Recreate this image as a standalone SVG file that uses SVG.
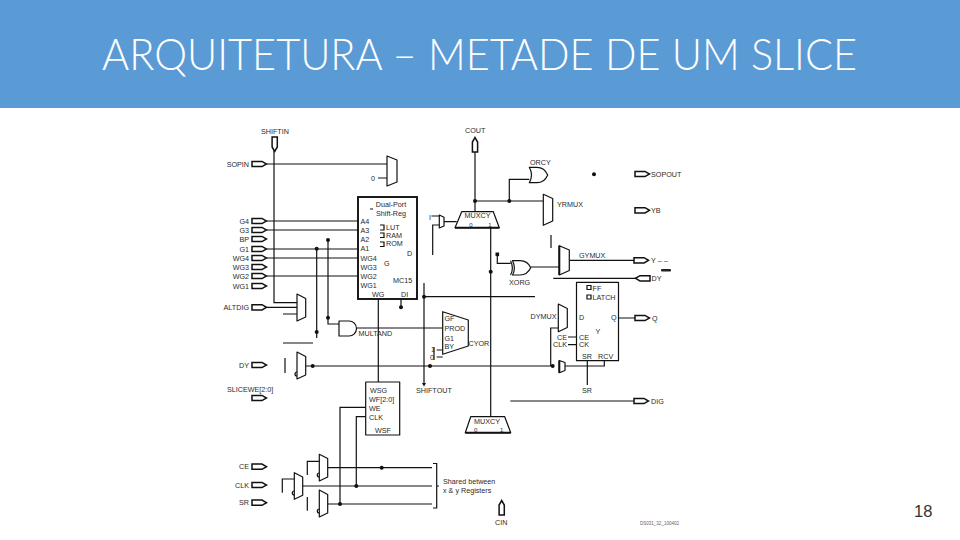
<svg xmlns="http://www.w3.org/2000/svg" xmlns:xlink="http://www.w3.org/1999/xlink" width="960" height="540" viewBox="0 0 960 540">
<style>
text{font-family:"Liberation Sans",Arial,sans-serif;font-size:7.2px;fill:#2a2a2a}
.e{text-anchor:end}.m{text-anchor:middle}
.w{fill:none;stroke:#111;stroke-width:1.2}
.s{fill:#fff;stroke:#111;stroke-width:1.2;stroke-linejoin:round}
.p{fill:#fff;stroke:#111;stroke-width:1.5;stroke-linejoin:miter}
.t{fill:#fff;stroke:#111;stroke-width:1.9}
.d{fill:#111}
.n{font-size:6px}
</style>
<defs>
<path id="pad" class="p" d="M0,-2.600H10L14.500,0L10,2.600H0Z"/>
</defs>
<rect width="960" height="540" fill="#fff"/>
<g id="header">
<rect width="960" height="108" fill="#5B9BD5"/>
<text x="102" y="70" textLength="755" lengthAdjust="spacingAndGlyphs" style="font-family:Lato,'Liberation Sans',sans-serif;font-weight:300;font-size:44px;fill:#fff">ARQUITETURA – METADE DE UM SLICE</text>
</g>
<g id="connectors">
<path class="w" d="M274,150V302.700H297M267,164H387M378,178H387M267,221H358M267,230H358M267,249H358M267,258H358M267,276H358M267,307.300H297M283,314H297"/>
<path class="w" d="M316.700,249V338M328,240V324H339M357,328H442.700M283,343H313M285,358V373M305.700,366H552M378.300,299V382M401,299V307M424,283V385M424,296.700H535"/>
<path class="w" d="M365.700,407.300H340V504M365.700,416.700H356.300V486M327.700,467.700H432M302.700,486H432M327.700,504H432M307.300,475V461.300H319.300M282.300,492.700V479H294.300M307.300,510.700V497"/>
<path class="w" d="M436.700,350H442.700M436.700,357H442.700M434,347V360M431.500,216H439.300M432.700,255V225H439.300M444,221.700H456.700M475,211.700V152M475,201H543.300M509.300,201V179.300H529.300M551,235V248"/>
<path class="w" d="M569.300,260.300H634M530.700,267H559.300M497.300,254.300V263.300H510.700M490.700,227.700V416.700M553.300,278.300H637M615,318H635M550.700,366V328H558.300M565,366H604.300V360.700M587.300,360.700V385M510.300,401H634M568,337H576.700M568,344.700H576.700"/>
<path class="w" d="M433,463.500H436.700V508H433M436.700,486H439"/>
</g>
<g id="pads">
<use href="#pad" x="252" y="164"/><use href="#pad" x="252" y="221"/><use href="#pad" x="252" y="230"/><use href="#pad" x="252" y="239"/><use href="#pad" x="252" y="249"/><use href="#pad" x="252" y="258"/><use href="#pad" x="252" y="267"/><use href="#pad" x="252" y="276"/><use href="#pad" x="252" y="286"/><use href="#pad" x="252" y="307.300"/><use href="#pad" x="252" y="365"/><use href="#pad" x="252" y="398"/><use href="#pad" x="252" y="466.700"/><use href="#pad" x="252" y="485"/><use href="#pad" x="252" y="502.700"/>
<use href="#pad" x="635" y="174"/><use href="#pad" x="635" y="210.300"/><use href="#pad" x="634" y="260.300"/><use href="#pad" transform="translate(650,278.300) scale(-1,1)"/><use href="#pad" x="635" y="318"/><use href="#pad" x="634" y="401"/>
<use href="#pad" transform="translate(274.700,137) rotate(90)"/><use href="#pad" transform="translate(475,152) rotate(-90)"/><use href="#pad" transform="translate(501.700,515) rotate(-90)"/>
<rect x="661" y="269" width="10" height="2.500" rx="1" fill="#222"/>
</g>
<g id="lut"><rect class="t" x="358" y="197" width="59" height="102"/>
<path class="w" d="M370,209H373M380,225H384V230H380M380,233H384V237.500H380M380,242H384V246.500H380"/>
<text class="m" x="391" y="207">Dual-Port</text><text class="m" x="391" y="215.500">Shift-Reg</text>
<text x="360.500" y="223.500">A4</text><text x="360.500" y="232.500">A3</text><text x="360.500" y="241.500">A2</text><text x="360.500" y="251">A1</text><text x="360.500" y="260.500">WG4</text><text x="360.500" y="269.500">WG3</text><text x="360.500" y="278.500">WG2</text><text x="360.500" y="287.500">WG1</text>
<text x="386" y="229.500">LUT</text><text x="386" y="237.500">RAM</text><text x="386" y="245.500">ROM</text><text x="407" y="255.500">D</text><text x="384" y="265.500">G</text><text x="393" y="283">MC15</text><text x="372" y="297">WG</text><text x="401" y="297">DI</text>
</g>
<g id="wsg-box"><rect class="s" x="365.700" y="382" width="34" height="53"/>
<text x="370" y="392.500">WSG</text><text x="369" y="401.500">WF[2:0]</text><text x="369" y="410.500">WE</text><text x="369" y="419.500">CLK</text><text x="375" y="433">WSF</text></g>
<g id="ff-box"><rect class="s" x="576.500" y="282.300" width="42" height="78.400"/>
<path class="w" d="M587,285.500h4v4h-4zM587,295h4v4h-4z"/>
<text x="592.500" y="290.500">FF</text><text x="592.500" y="300">LATCH</text>
<text x="579" y="320">D</text><text x="611" y="320">Q</text><text x="595.500" y="333.500">Y</text><text x="579" y="339.500">CE</text><text x="579" y="347">CK</text><text x="582" y="358.500">SR</text><text x="598" y="358.500">RCV</text></g>
<g id="mux-top"><path class="s" d="M387,156L397,160V182L387,186Z"/></g>
<g id="mux-alt"><path class="s" d="M297,294L305.700,298.500V317L297,321Z"/></g>
<g id="mux-dy"><path class="s" d="M297,352L305.700,356.500V375L297,379Z"/><path class="w" d="M297,372a2,2 0 1 0 0,4"/></g>
<g id="mux-ce"><path class="s" d="M319.300,454.300L327.700,458.500V477L319.300,481Z"/><path class="w" d="M319.300,473a2,2 0 1 0 0,4"/></g>
<g id="mux-clk"><path class="s" d="M294.300,472.700L302.700,477V495.300L294.300,499.300Z"/><path class="w" d="M294.300,491a2,2 0 1 0 0,4"/></g>
<g id="mux-sr"><path class="s" d="M319.300,490L327.700,494.500V513L319.300,517Z"/><path class="w" d="M319.300,509a2,2 0 1 0 0,4"/></g>
<g id="mux-i"><path class="s" d="M439.300,215L444,217.300V226L439.300,228Z"/></g>
<g id="muxcy-top"><path class="s" d="M461.700,211.700H493.300L499.300,227.700H455Z"/><path d="M455,227.700H499.300" stroke="#111" stroke-width="2"/><text class="m" x="477.500" y="218.200">MUXCY</text><text class="m n" x="471" y="226.500">0</text><text class="m n" x="490" y="226.500">1</text></g>
<g id="muxcy-bottom"><path class="s" d="M470.700,416.700H504.700L510.700,432.700H465.300Z"/><path d="M465.300,432.700H510.700" stroke="#111" stroke-width="2"/><text x="474" y="423.500">MUXCY</text><text class="n" x="474" y="431.500">0</text><text class="n" x="500" y="431.500">1</text></g>
<g id="yrmux"><path class="s" d="M543.300,194.300L552.700,198.500V221L543.300,225.300Z"/></g>
<g id="gymux"><path class="s" d="M559.300,245.700L569.300,250V270.500L559.300,275Z"/><path d="M559.300,245.700V275" stroke="#111" stroke-width="2"/></g>
<g id="dymux"><path class="s" d="M558.300,304L567.300,308.500V327.500L558.300,331.700Z"/></g>
<g id="mux-sr-ff"><path class="s" d="M559.300,360.500L565,362.500V370.500L559.300,372.700Z"/><path d="M559.300,360.500V372.700" stroke="#111" stroke-width="2"/></g>
<g id="cyor"><path class="s" d="M442.700,311.700L468.300,320V346L442.700,354.300Z"/><text x="444.500" y="321">GF</text><text x="444.500" y="331">PROD</text><text x="444.500" y="340.500">G1</text><text x="444.500" y="348.500">BY</text></g>
<g id="multand"><path class="s" d="M339,321H349A7.500,7.500 0 0 1 349,336H339Z"/></g>
<g id="orcy"><path class="s" d="M529.300,167.300H537C542,167.300 546,171 547.700,175C546,179 542,182.700 537,182.700H529.300C532,178 532,172 529.300,167.300Z"/></g>
<g id="xorg"><path class="s" d="M512.500,260.700H520C525,260.700 529,264 530.700,267.800C529,271.500 525,275 520,275H512.500C515,271 515,265 512.500,260.700Z"/><path class="w" d="M510.500,260.700C513,265 513,271 510.500,275"/></g>
<g id="junctions">
<circle class="d" cx="316.700" cy="248.700" r="2"/><circle class="d" cx="328" cy="240" r="2"/><circle class="d" cx="328" cy="317.700" r="2"/><circle class="d" cx="316.700" cy="332" r="2"/><circle class="d" cx="312.700" cy="366" r="2"/><circle class="d" cx="430" cy="366" r="2"/><circle class="d" cx="424" cy="296.700" r="2"/><circle class="d" cx="401" cy="307.300" r="2"/><circle class="d" cx="475" cy="201" r="2"/><circle class="d" cx="509.300" cy="201" r="2"/><circle class="d" cx="594" cy="174.300" r="2"/><circle class="d" cx="490.700" cy="271.700" r="2"/><circle class="d" cx="552.700" cy="366" r="2"/><circle class="d" cx="381.700" cy="467.700" r="2"/><circle class="d" cx="356.300" cy="486" r="2"/><circle class="d" cx="340" cy="504" r="2"/>
<rect class="d" x="495.500" y="252.500" width="3.600" height="3.600"/><path class="d" d="M422,383H426L424,386.500Z"/>
</g>
<g id="labels">
<text x="261" y="134">SHIFTIN</text><text x="465" y="133">COUT</text><text x="530" y="164.500">ORCY</text>
<text class="e" x="249" y="166.500">SOPIN</text><text class="e" x="249" y="223.500">G4</text><text class="e" x="249" y="232.500">G3</text><text class="e" x="249" y="241.500">BP</text><text class="e" x="249" y="251.500">G1</text><text class="e" x="249" y="260.500">WG4</text><text class="e" x="249" y="269.500">WG3</text><text class="e" x="249" y="278.500">WG2</text><text class="e" x="249" y="288.500">WG1</text><text class="e" x="249" y="310">ALTDIG</text><text class="e" x="249" y="367.500">DY</text><text x="227" y="391.500">SLICEWE[2:0]</text><text class="e" x="249" y="469">CE</text><text class="e" x="249" y="487.500">CLK</text><text class="e" x="249" y="505">SR</text>
<text class="e" x="375" y="180.500">0</text><text x="429" y="219.500">I</text><text x="431" y="352">1</text><text x="430" y="359.500">0</text>
<text x="651" y="176.500">SOPOUT</text><text x="651" y="213">YB</text><text x="651" y="262.500">Y – –</text><text x="651.500" y="281">DY</text><text x="652" y="320.500">Q</text><text x="651" y="403.500">DIG</text>
<text x="557" y="207">YRMUX</text><text x="579" y="257.500">GYMUX</text><text x="509" y="284.500">XORG</text><text x="530.500" y="319">DYMUX</text><text x="358.500" y="335.500">MULTAND</text><text x="468.500" y="345.500">CYOR</text><text x="557" y="339.500">CE</text><text x="553" y="347">CLK</text><text x="582" y="393">SR</text><text x="416" y="393">SHIFTOUT</text>
<text x="443" y="483.500">Shared between</text><text x="443" y="492.500">x &amp; y Registers</text><text x="495" y="525">CIN</text>
<text x="640" y="525" textLength="39" lengthAdjust="spacingAndGlyphs" style="font-size:4.500px;fill:#666">DS031_32_100402</text>
</g>
<g id="page-number"><text x="914" y="517" style="font-size:16.500px;fill:#333">18</text></g>
</svg>
